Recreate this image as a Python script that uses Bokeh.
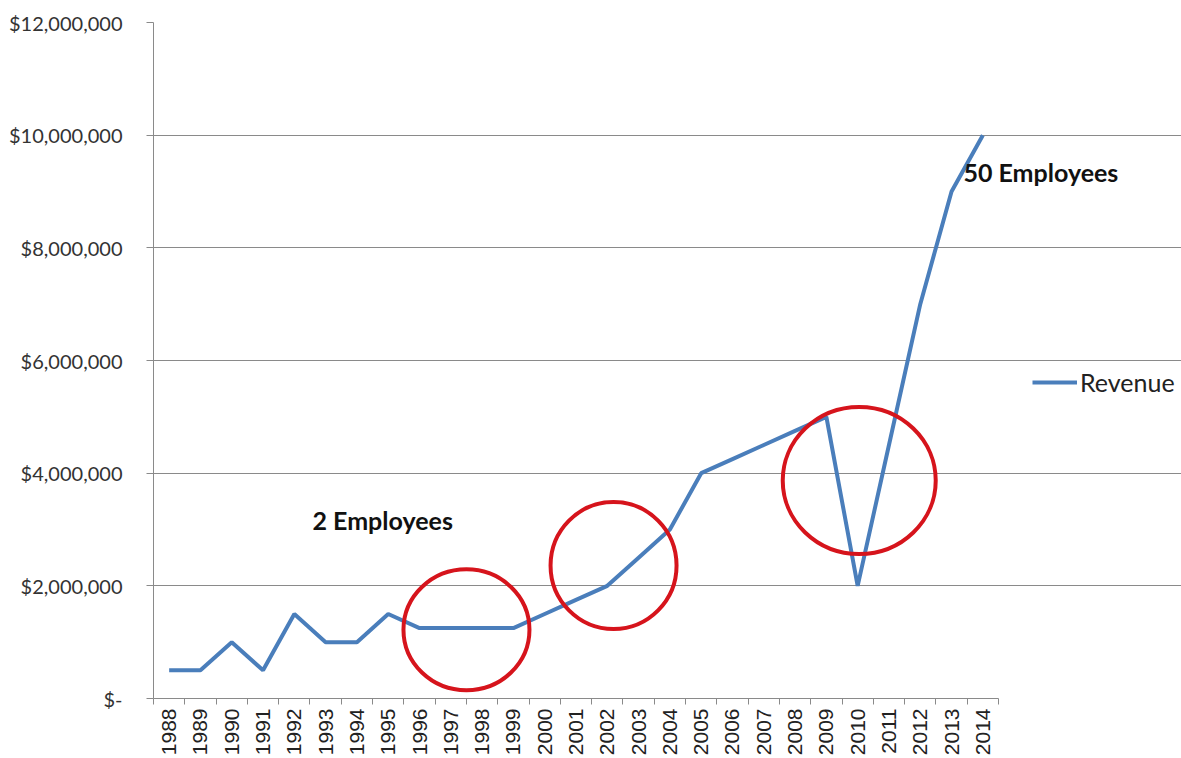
import math
from bokeh.plotting import figure
from bokeh.models import Range1d, FixedTicker, Legend, LegendItem, ColumnDataSource, Label
from bokeh.embed import file_html
from bokeh.resources import INLINE

years = list(range(1988, 2015))
revenue = [500000, 500000, 1000000, 500000, 1500000, 1000000, 1000000, 1500000,
           1250000, 1250000, 1250000, 1250000, 1500000, 1750000, 2000000, 2500000,
           3000000, 4000000, 4250000, 4500000, 4750000, 5000000, 2000000, 4500000,
           7000000, 9000000, 10000000]

y_ticks = [0, 2000000, 4000000, 6000000, 8000000, 10000000, 12000000]
y_tick_labels = ["$-", "$2,000,000", "$4,000,000", "$6,000,000", "$8,000,000",
                 "$10,000,000", "$12,000,000"]

note_texts = ["2 Employees", "50 Employees"]
note_x = [1992.58, 2013.38]
note_y = [3160000, 9340000]

circle_x = [1997.5, 2002.2, 2010.05]
circle_y = [1220000, 2360000, 3870000]
circle_w = [126, 126, 153]
circle_h = [121, 127, 147]

LINE = "#4a7ebb"
GRID = "#8a8a8a"

W, H = 1181, 758
LEFT, TOP, BOTTOM = 153, 22, 60
PLOT_W = 845          # width of the charted area (pixels)
x0 = years[0] - 0.5
x1 = years[-1] + 0.5
x_end = x0 + (x1 - x0) * (W - LEFT) / PLOT_W

p = figure(width=W, height=H, output_backend="svg", toolbar_location=None,
           x_range=Range1d(x0, x_end),
           y_range=Range1d(y_ticks[0], y_ticks[-1]),
           min_border_left=LEFT, min_border_right=0, min_border_top=TOP,
           min_border_bottom=BOTTOM)
p.outline_line_color = None
p.background_fill_color = "white"
p.border_fill_color = "white"

src = ColumnDataSource(dict(year=years, revenue=revenue))
r = p.line("year", "revenue", source=src, line_color=LINE, line_width=4)

p.ellipse(x=circle_x, y=circle_y, width=circle_w, height=circle_h,
          width_units="screen", height_units="screen",
          fill_color=None, line_color="#d6141c", line_width=4)

for t, xx, yy in zip(note_texts, note_x, note_y):
    p.add_layout(Label(x=xx, y=yy, text=t, text_font="Lato",
                       text_font_style="bold", text_font_size="25px",
                       text_baseline="middle", text_align="left",
                       text_color="#111111"))

# x axis
xa = p.xaxis[0]
xa.bounds = (x0, x1)
xa.ticker = FixedTicker(ticks=years, minor_ticks=[y - 0.5 for y in years] + [x1])
xa.major_label_orientation = math.pi / 2
xa.major_tick_line_color = None
xa.major_tick_out = 0
xa.major_tick_in = 0
xa.minor_tick_out = 6
xa.minor_tick_in = 0
xa.minor_tick_line_color = GRID
xa.axis_line_color = GRID
xa.major_label_standoff = 4
xa.major_label_text_font = "Liberation Sans"
xa.major_label_text_font_size = "21px"
xa.major_label_text_color = "#222222"

# y axis
ya = p.yaxis[0]
ya.ticker = FixedTicker(ticks=y_ticks)
ya.major_label_overrides = {t: l for t, l in zip(y_ticks, y_tick_labels)}
ya.major_tick_out = 7
ya.major_tick_in = 0
ya.minor_tick_line_color = None
ya.major_tick_line_color = GRID
ya.axis_line_color = GRID
ya.major_label_standoff = 24
ya.major_label_text_font = "Lato"
ya.major_label_text_font_size = "20px"
ya.major_label_text_color = "#333333"

p.xgrid.grid_line_color = None
p.ygrid.ticker = FixedTicker(ticks=y_ticks)
p.ygrid.bounds = (x0, x1)
p.ygrid.grid_line_color = GRID
p.ygrid.grid_line_width = 1

legend = Legend(items=[LegendItem(label="Revenue", renderers=[r])],
                location=(879, 301), glyph_width=45, glyph_height=20,
                label_standoff=3, padding=0, margin=0, spacing=0,
                border_line_color=None, background_fill_alpha=0,
                label_text_font="Lato", label_text_font_size="25px",
                label_text_color="#222222")
p.add_layout(legend)

open("out.html", "w").write(file_html(p, INLINE))
